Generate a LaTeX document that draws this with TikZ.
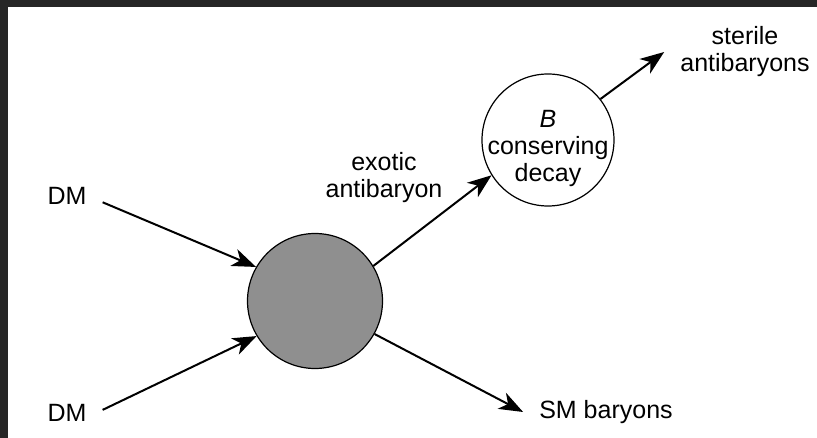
\documentclass[tikz,border=0pt]{standalone}
\usepackage{fontspec}
\setmainfont{Liberation Sans}
\usetikzlibrary{arrows.meta}
\tikzset{lbl/.style={font=\fontsize{25}{27}\selectfont, align=center, inner xsep=16pt, inner ysep=2pt}}
\tikzset{arr/.style={line width=2pt, -{Stealth[length=24pt,width=18pt,inset=7pt]}}}
\tikzset{blob/.style={circle, draw, line width=1.2pt, inner sep=0pt}}

\begin{document}
\begin{tikzpicture}[x=1pt,y=-1pt,line join=round]
            \useasboundingbox (0,0) rectangle (817,438);
            \fill[black!85] (0,0) rectangle (817,438);
            \fill[white] (8,7) rectangle (817,438);
            \node[blob,fill=black!44,minimum size=135pt] (core) at (315,301) {};
            \node[blob,fill=white,minimum size=132pt] (decay) at (548,140) {};
            \node[lbl] (decaytxt) at (548,148) {\textit{B}\\conserving\\decay};
            \node[lbl] (dmA) at (67,196) {DM};
            \node[lbl] (dmB) at (67,413) {DM};
            \node[lbl] (exotic) at (384,178) {exotic\\antibaryon};
            \node[lbl] (sterile) at (745,52) {sterile\\antibaryons};
            \node[lbl] (smbar) at (606,412) {SM baryons};
            \draw[arr] (dmA.-10) -- (core.150);
            \draw[arr] (dmB.5) -- (core.211);
            \draw[arr] (core.31) -- (decay.212);
            \draw[arr] (decay.38) -- (sterile.west);
            \draw[arr] (core.-29) -- (smbar.west);
          \end{tikzpicture}
\end{document}
